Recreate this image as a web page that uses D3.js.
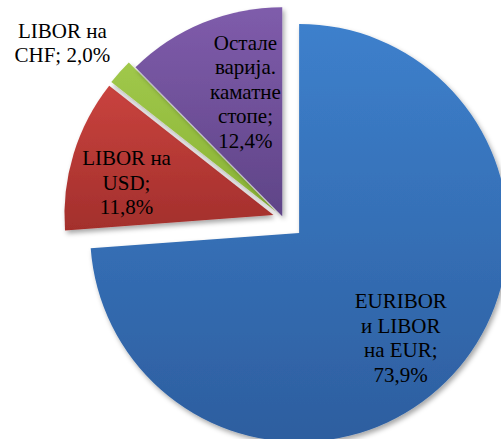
<!DOCTYPE html>
<html>
<head>
<meta charset="utf-8">
<script src="https://cdn.jsdelivr.net/npm/d3@7"></script>
<style>
  html, body { margin: 0; padding: 0; background: #fff; }
  svg { display: block; }
</style>
</head>
<body>
<div id="chart"></div>
<script>
// data
const categories = ["EURIBOR и LIBOR на EUR", "LIBOR на USD", "LIBOR на CHF", "Остале варија. каматне стопе"];
const values = [73.9, 11.8, 2.0, 12.4];
const labelLines = [
  ["EURIBOR", "и LIBOR", "на EUR;", "73,9%"],
  ["LIBOR на", "USD;", "11,8%"],
  ["LIBOR на", "CHF; 2,0%"],
  ["Остале", "варија.", "каматне", "стопе;", "12,4%"]
];

const width = 501, height = 439;
const radius = 209;
const cx = 283, cy = 218;
// how far each slice is pulled out, px
const explode = [22, 10, 10, 2];
// label placement: fraction of radius and angle (deg, clockwise from top)
const labelRatio = [0.70, 0.72, 1.30, 0.62];
const labelAngle = [136, 282.5, 308.3, 343.5];

const topColors = ["#3d80cc", "#c9433e", "#a0c84a", "#7f5cab"];
const botColors = ["#2d5e9f", "#a32f2c", "#8ab336", "#5f4487"];

const svg = d3.select("#chart").append("svg")
  .attr("width", width)
  .attr("height", height);

const defs = svg.append("defs");
const shadow = defs.append("filter").attr("id", "shadow")
  .attr("x", "-20%").attr("y", "-20%").attr("width", "140%").attr("height", "140%");
shadow.append("feDropShadow")
  .attr("dx", 2).attr("dy", 3).attr("stdDeviation", 2.5)
  .attr("flood-color", "#000").attr("flood-opacity", 0.35);

values.forEach((v, i) => {
  const g = defs.append("linearGradient").attr("id", "grad" + i)
    .attr("x1", 0).attr("y1", 0).attr("x2", 0).attr("y2", 1);
  g.append("stop").attr("offset", "0%").attr("stop-color", topColors[i]);
  g.append("stop").attr("offset", "100%").attr("stop-color", botColors[i]);
});

const pie = d3.pie().value(d => d).sort(null);
const arc = d3.arc().innerRadius(0).outerRadius(radius);
const arcs = pie(values);

const root = svg.append("g").attr("transform", `translate(${cx},${cy})`);

root.selectAll("path.slice")
  .data(arcs)
  .enter()
  .append("path")
  .attr("class", "slice")
  .attr("d", arc)
  .attr("fill", (d, i) => `url(#grad${i})`)
  .attr("filter", "url(#shadow)")
  .attr("transform", (d, i) => {
    const mid = (d.startAngle + d.endAngle) / 2;
    return `translate(${Math.sin(mid) * explode[i]},${-Math.cos(mid) * explode[i]})`;
  });

// labels
const fontSize = 21, lineH = 24.5, capH = 14;
arcs.forEach((d, i) => {
  const a = labelAngle[i] * Math.PI / 180;
  const r = labelRatio[i] * radius;
  const mid = (d.startAngle + d.endAngle) / 2;
  const ox = Math.sin(mid) * explode[i], oy = -Math.cos(mid) * explode[i];
  const x = ox + Math.sin(a) * r;
  const y = oy - Math.cos(a) * r;
  const lines = labelLines[i];
  const y0 = y - (lines.length - 1) * lineH / 2 + capH / 2;
  const t = root.append("text")
    .attr("text-anchor", "middle")
    .style("font-family", '"Liberation Serif", "Times New Roman", serif')
    .style("font-size", fontSize + "px")
    .attr("fill", "#000");
  lines.forEach((ln, k) => {
    t.append("tspan").attr("x", x).attr("y", y0 + k * lineH).text(ln);
  });
});
</script>
</body>
</html>
